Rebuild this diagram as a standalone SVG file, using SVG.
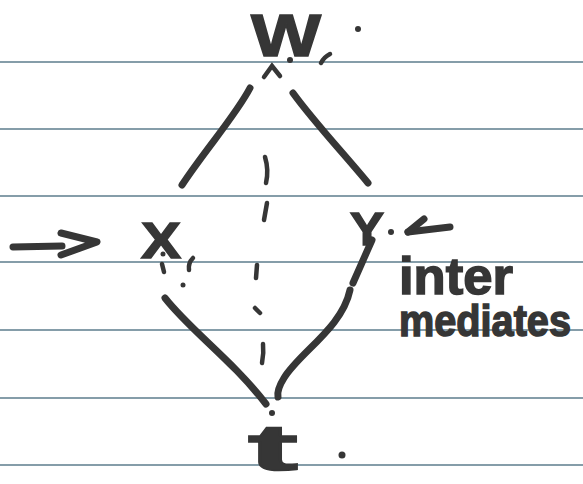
<svg xmlns="http://www.w3.org/2000/svg" width="583" height="484" viewBox="0 0 583 484">
<style>
.rule{stroke:#5d7c8c;stroke-width:1.6;fill:none}
.ink{stroke:#363636;stroke-width:7;fill:none;stroke-linecap:round;stroke-linejoin:round}
.thin{stroke:#363636;stroke-width:4.5;fill:none;stroke-linecap:round}
.dot{fill:#363636}
.lbl{font-family:"Liberation Sans","DejaVu Sans",sans-serif;font-weight:bold;fill:#363636;stroke:#363636;stroke-width:1.5}
</style>
<rect width="583" height="484" fill="#ffffff"/>
<g id="paper">
<line class="rule" x1="0" y1="62" x2="583" y2="62"/>
<line class="rule" x1="0" y1="129" x2="583" y2="129"/>
<line class="rule" x1="0" y1="196" x2="583" y2="196"/>
<line class="rule" x1="0" y1="262" x2="583" y2="262"/>
<line class="rule" x1="0" y1="330" x2="583" y2="330"/>
<line class="rule" x1="0" y1="398" x2="583" y2="398"/>
<line class="rule" x1="0" y1="465" x2="583" y2="465"/>
</g>
<g id="connectors">
<path class="ink" d="M250,88 C236,115 205,150 182,185"/>
<path class="ink" d="M293,93 C314,122 345,155 368,183"/>
<path class="ink" d="M165,298 C190,330 232,360 266,404"/>
<path class="ink" d="M372,240 L353,283"/>
<path class="ink" d="M350,290 C342,328 300,352 284,378 C279,386 277,392 278,397"/>
<g id="dashed-center">
<path class="thin" d="M265,157 Q269,170 266,183"/>
<path class="thin" d="M267,203 L264,220"/>
<path class="thin" d="M257,265 L256,278"/>
<path class="thin" d="M255,308 L260,313"/>
<path class="thin" d="M263,344 Q264,353 262,363"/>
</g>
</g>
<g id="node-W">
<text class="lbl" x="251" y="56" font-size="60" textLength="70" lengthAdjust="spacingAndGlyphs">W</text>
<path class="thin" d="M264,77 L272,66 L280,76"/>
<circle class="dot" cx="290" cy="60" r="3"/>
<path class="thin" d="M321,63 Q324,57 330,54"/>
<circle class="dot" cx="358" cy="29" r="3"/>
</g>
<g id="node-X">
<text class="lbl" x="141" y="258" font-size="50" textLength="40" lengthAdjust="spacingAndGlyphs">X</text>
<circle class="dot" cx="163" cy="254" r="2.5"/>
<path class="thin" d="M162,264 L164,272"/>
<path class="thin" d="M193,258 Q188,263 189,270"/>
<circle class="dot" cx="183" cy="285" r="2.5"/>
</g>
<g id="node-Y">
<text class="lbl" x="350" y="245" font-size="46" textLength="34" lengthAdjust="spacingAndGlyphs">Y</text>
<circle class="dot" cx="391" cy="232" r="3"/>
</g>
<g id="node-t">
<text class="lbl" x="248" y="470" font-size="64" textLength="50" lengthAdjust="spacingAndGlyphs">t</text>
<circle class="dot" cx="272" cy="413" r="3"/>
<circle class="dot" cx="342" cy="455" r="3.5"/>
</g>
<g id="annotations">
<path class="ink" d="M13,247 L62,246"/>
<path class="ink" d="M61,233 L97,242 L61,255"/>
<path class="ink" d="M408,232 L450,227"/>
<path class="ink" d="M408,232 L424,219"/>
<text class="lbl" x="399" y="294" font-size="52" textLength="114" lengthAdjust="spacingAndGlyphs">inter</text>
<text class="lbl" x="399" y="336" font-size="44" textLength="172" lengthAdjust="spacingAndGlyphs">mediates</text>
</g>
</svg>
